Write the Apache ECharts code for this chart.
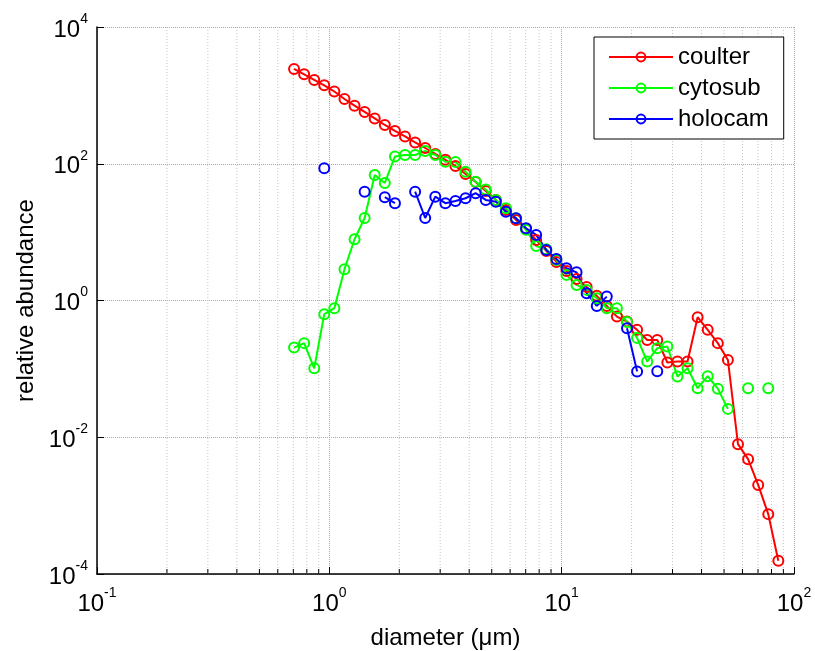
<!DOCTYPE html>
<html><head><meta charset="utf-8">
<script src="https://cdn.jsdelivr.net/npm/echarts@6/dist/echarts.min.js"></script>
<style>html,body{margin:0;padding:0;background:#fff}#c{width:815px;height:651px}</style>
</head><body><div id="c"></div>
<script>
const diameter = [0.705,0.779,0.861,0.951,1.051,1.162,1.284,1.419,1.568,1.733,1.916,2.117,2.340,2.586,2.858,3.158,3.490,3.857,4.263,4.711,5.207,5.754,6.360,7.028,7.767,8.584,9.488,10.49,11.59,12.81,14.16,15.64,17.29,19.11,21.12,23.34,25.79,28.50,31.50,34.82,38.48,42.52,47.00,51.94,57.40,63.44,70.11,77.48,85.63];
const coulter = [2432,2035,1680,1405,1140,886,707,572,460,369,302,251,205,170,139,114,92.9,71.0,54.2,40.0,29.6,21.1,15.1,11.1,7.69,5.31,3.67,2.71,2.07,1.58,1.17,0.834,0.582,0.492,0.372,0.265,0.265,0.124,0.128,0.128,0.570,0.372,0.238,0.135,0.00792,0.00478,0.00201,0.000751,0.000156];
const cytosub = [0.205,0.238,0.102,0.631,0.771,2.87,7.87,16.1,68.6,52.4,128,134.5,134.5,154,134.5,107,106,76.6,54.7,42.1,29.6,22.4,16.0,10.8,6.28,5.62,3.92,2.37,1.69,1.43,1.08,0.771,0.771,0.486,0.284,0.128,0.201,0.212,0.0776,0.102,0.0522,0.0782,0.0514,0.0260,null,0.0522,null,0.0522,null];
const holocam = [null,null,null,85.9,null,null,null,39.1,null,32.4,26.5,null,39.1,16.1,33.0,26.5,28.6,31.3,37.1,29.6,27.9,19.9,16.0,11.4,9.10,5.49,4.06,2.96,2.58,1.28,0.834,1.14,null,0.394,0.0919,null,0.092,null,null,null,null,null,null,null,null,null,null,null,null];
const seriesNames = ['coulter','cytosub','holocam'];
const seriesColors = ['#ff0000','#00ff00','#0000ff'];
const xMinor = [0.2,0.3,0.4,0.5,0.6,0.7,0.8,0.9,2,3,4,5,6,7,8,9,20,30,40,50,60,70,80,90];

const FONT = "'Liberation Sans', Arial, sans-serif";
function supLabel(v){ const e = Math.round(Math.log10(v)); return '{b|10}{s|' + e + '}'; }
const rich = {
  b: {fontSize: 24, lineHeight: 30, verticalAlign: 'bottom', fontFamily: FONT, color: '#000'},
  s: {fontSize: 14, lineHeight: 14, verticalAlign: 'top', fontFamily: FONT, color: '#000'}
};
function pts(arr){ return diameter.map((d,i) => [d, arr[i] == null ? '-' : arr[i]]); }

const chart = echarts.init(document.getElementById('c'), null, {renderer: 'canvas'});
const lineSeries = [coulter, cytosub, holocam].map((arr, k) => ({
  name: seriesNames[k], type: 'line', data: pts(arr), z: 3,
  symbol: 'circle', symbolSize: 10, showAllSymbol: true,
  lineStyle: {color: seriesColors[k], width: 2},
  itemStyle: {color: 'rgba(0,0,0,0)', borderColor: seriesColors[k], borderWidth: 2},
  emphasis: {disabled: true}
}));
chart.setOption({
  animation: false,
  backgroundColor: '#fff',
  grid: {left: 97, right: 21, top: 27, bottom: 77, containLabel: false, outerBoundsMode: 'none'},
  legend: {
    data: seriesNames, orient: 'vertical', left: 594, top: 37,
    itemWidth: 64, itemHeight: 11, itemGap: 7,
    padding: [8, 15, 8, 14], borderColor: '#000', borderWidth: 1, backgroundColor: '#fff',
    textStyle: {fontSize: 24, fontFamily: FONT, color: '#000'}
  },
  xAxis: {
    type: 'log', logBase: 10, min: 0.1, max: 100, splitNumber: 3,
    name: 'diameter (μm)', nameLocation: 'middle', nameGap: 52,
    nameTextStyle: {fontSize: 24, fontFamily: FONT, color: '#000'},
    axisLine: {lineStyle: {color: '#000', width: 1.5}},
    axisTick: {inside: true, length: 7, lineStyle: {color: '#000'}},
    axisLabel: {formatter: supLabel, rich: rich, margin: 12},
    splitLine: {show: true, lineStyle: {color: '#a8a8a8', type: 'dotted', width: 1}}
  },
  yAxis: {
    type: 'log', logBase: 100, min: 1e-4, max: 1e4, splitNumber: 4,
    name: 'relative abundance', nameLocation: 'middle', nameGap: 58, nameRotate: 90,
    nameTextStyle: {fontSize: 24, fontFamily: FONT, color: '#000'},
    axisLine: {lineStyle: {color: '#000', width: 1.5}},
    axisTick: {inside: true, length: 7, lineStyle: {color: '#000'}},
    axisLabel: {formatter: supLabel, rich: rich, margin: 9},
    splitLine: {show: true, lineStyle: {color: '#a8a8a8', type: 'dotted', width: 1}}
  },
  series: [{
    type: 'custom', z: 1, silent: true,
    data: xMinor.map(v => [v, 1]),
    renderItem: function(params, api){
      const v = api.value(0);
      const t = api.coord([v, 1e4]);
      const b = api.coord([v, 1e-4]);
      return {type: 'group', children: [
        {type: 'line', shape: {x1: t[0], y1: t[1], x2: b[0], y2: b[1]}, style: {stroke: '#c4c4c4', lineWidth: 1, lineDash: [1, 2]}},
        {type: 'line', shape: {x1: b[0], y1: b[1], x2: b[0], y2: b[1] - 5}, style: {stroke: '#000', lineWidth: 1}}
      ]};
    }
  }].concat(lineSeries)
});
</script></body></html>
